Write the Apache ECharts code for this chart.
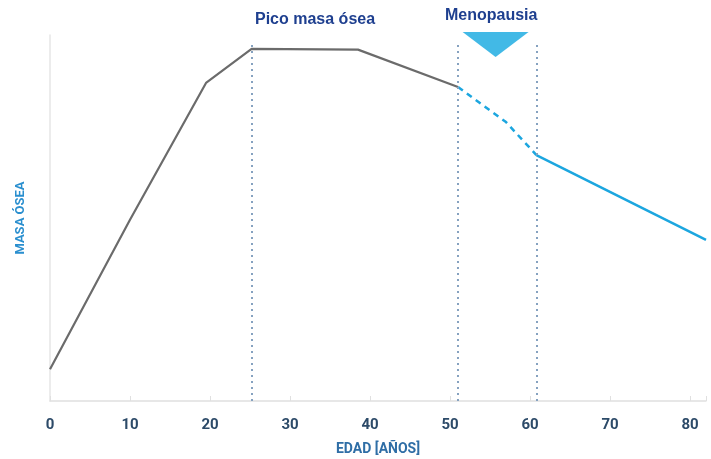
<!DOCTYPE html>
<html>
<head>
<meta charset="utf-8">
<script src="https://cdn.jsdelivr.net/npm/echarts@6/dist/echarts.min.js"></script>
<style>html,body{margin:0;padding:0;background:#fff}#c{width:711px;height:459px}</style>
</head>
<body>
<div id="c"></div>
<script>
// Bone mass across the life span (arbitrary units, 0–100)
const xTicks = [0, 10, 20, 30, 40, 50, 60, 70, 80];

const growthAges = [0, 10, 19.5, 25.2, 38.5, 51];
const growthMass = [8.7, 49.5, 86.9, 96.2, 96.0, 85.8];

const menoAges = [51, 57, 60.8];
const menoMass = [85.8, 76.2, 67.2];

const lateAges = [60.8, 82];
const lateMass = [67.2, 44];

const markerAges = [25.2, 51, 60.8];
const markerTop = 97.3;
const triangleAt = [55.7, 97.4];

const toPairs = (xs, ys) => xs.map((x, i) => [x, ys[i]]);

const tickFont = "'Liberation Sans Narrow', 'Roboto', sans-serif";
const chart = echarts.init(document.getElementById('c'), null, { renderer: 'canvas' });

chart.setOption({
  animation: false,
  grid: { left: 50, right: 5, top: 35, bottom: 58, outerBoundsMode: 'none', containLabel: false },
  xAxis: {
    type: 'value', min: 0, max: 82, interval: 10,
    name: 'EDAD [AÑOS]', nameLocation: 'middle', nameGap: 41,
    nameTextStyle: { color: '#2f6ea6', fontFamily: tickFont, fontWeight: 'bold', fontSize: 14 },
    axisLine: { show: true, lineStyle: { color: '#e0e0e0', width: 1.5 } },
    axisTick: { show: true, inside: true, length: 5, lineStyle: { color: '#e0e0e0' } },
    splitLine: { show: false },
    axisLabel: {
      margin: 17, color: '#2c4a68', fontFamily: tickFont, fontWeight: 'bold', fontSize: 15,
      formatter: v => (xTicks.includes(v) ? String(v) : '')
    }
  },
  yAxis: {
    type: 'value', min: 0, max: 100,
    name: 'MASA ÓSEA', nameLocation: 'middle', nameGap: 23, nameRotate: 90,
    nameTextStyle: { color: '#2a8fcf', fontFamily: tickFont, fontWeight: 'bold', fontSize: 13 },
    axisLine: { show: true, lineStyle: { color: '#e6e6e6', width: 1.5 } },
    axisTick: { show: false },
    axisLabel: { show: false },
    splitLine: { show: false }
  },
  series: [
    {
      type: 'line', data: toPairs(growthAges, growthMass), symbol: 'none',
      lineStyle: { color: '#6b6b6b', width: 2.2 }, z: 3,
      markLine: {
        silent: true, symbol: 'none', label: { show: false },
        lineStyle: { color: '#86a2c0', type: [2, 4], width: 2 },
        data: markerAges.map(a => [{ coord: [a, markerTop] }, { coord: [a, 0] }])
      }
    },
    {
      type: 'line', data: toPairs(menoAges, menoMass), symbol: 'none',
      lineStyle: { color: '#1ca6df', width: 2.5, type: [6, 5] }, z: 3
    },
    {
      type: 'line', data: toPairs(lateAges, lateMass), symbol: 'none',
      lineStyle: { color: '#1ca6df', width: 2.5 }, z: 3
    },
    {
      type: 'scatter', data: [triangleAt], symbol: 'triangle', symbolRotate: 180,
      symbolSize: [66, 25], itemStyle: { color: '#13a8e0' }, silent: true, z: 4
    }
  ],
  graphic: [
    {
      type: 'text', left: 255, top: 12,
      style: { text: 'Pico masa ósea', fill: '#1e3f8f', font: "bold 16px 'Liberation Sans', Arial, sans-serif" }
    },
    {
      type: 'text', left: 445, top: 8,
      style: { text: 'Menopausia', fill: '#1e3f8f', font: "bold 16px 'Liberation Sans', Arial, sans-serif" }
    }
  ]
});
</script>
</body>
</html>
